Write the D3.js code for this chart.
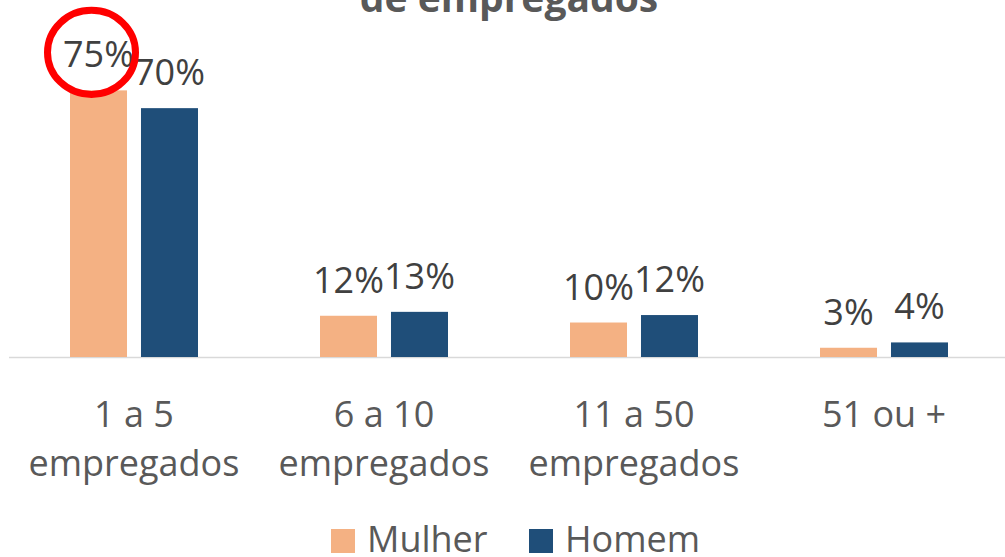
<!DOCTYPE html>
<html><head><meta charset="utf-8">
<script src="https://cdn.jsdelivr.net/npm/d3@7"></script>
<style>html,body{margin:0;padding:0;background:#fff;overflow:hidden}</style>
</head><body>
<svg id="c" width="1005" height="557"></svg>
<script>
const categories = [["1 a 5","empregados"],["6 a 10","empregados"],["11 a 50","empregados"],["51 ou +"]];
const seriesNames = ["Mulher","Homem"];
const mulher = [0.75, 0.116, 0.097, 0.026];
const homem  = [0.70, 0.127, 0.118, 0.041];
const colors = ["#F4B183","#1F4E79"];
const title = "de empregados";

const svg = d3.select("#c");
const FONT = "'Open Sans', 'Noto Sans', sans-serif";
const baseY = 357;
const catKeys = categories.map((c,i)=>i);
const x0 = d3.scaleBand().domain(catKeys).range([9,1009]).paddingInner(0).paddingOuter(0);
const x1 = d3.scaleBand().domain(seriesNames).range([61,189]).paddingInner(0.197).paddingOuter(0);
const y = d3.scaleLinear().domain([0,0.8]).range([baseY, baseY - 0.8*355.5]);
const fmt = d3.format(".0%");

// title
svg.append("text").attr("x",509).attr("y",12).attr("text-anchor","middle")
  .attr("font-family",FONT).attr("font-weight","bold").attr("font-size",39)
  .attr("fill","#595959").text(title);

// axis line
svg.append("line").attr("x1",9).attr("x2",1005).attr("y1",baseY+0.5).attr("y2",baseY+0.5)
  .attr("stroke","#D9D9D9").attr("stroke-width",1.5);

const data = catKeys.map(i=>({i, vals:[mulher[i],homem[i]]}));
const g = svg.selectAll("g.grp").data(data).join("g").attr("class","grp")
  .attr("transform",d=>`translate(${x0(d.i)},0)`);
g.selectAll("rect").data(d=>d.vals.map((v,k)=>({v,k}))).join("rect")
  .attr("x",d=>x1(seriesNames[d.k])).attr("width",x1.bandwidth())
  .attr("y",d=>y(d.v)).attr("height",d=>baseY-y(d.v))
  .attr("fill",d=>colors[d.k]);
g.selectAll("text.lbl").data(d=>d.vals.map((v,k)=>({v,k}))).join("text").attr("class","lbl")
  .attr("x",d=>x1(seriesNames[d.k])+x1.bandwidth()/2).attr("y",d=>y(d.v)-23)
  .attr("text-anchor","middle").attr("font-family",FONT).attr("font-size",36)
  .attr("fill","#404040").text(d=>fmt(d.v));

// category labels
g.each(function(d){
  const t = d3.select(this).append("text").attr("text-anchor","middle")
    .attr("font-family",FONT).attr("font-size",36).attr("fill","#595959");
  categories[d.i].forEach((line,j)=>{
    t.append("tspan").attr("x",x0.bandwidth()/2).attr("y",427+j*49).text(line);
  });
});

// red circle annotation around first label
const cx = x0(0)+x1("Mulher")+x1.bandwidth()/2 - 7;
const cy = y(mulher[0]) - 38;
svg.append("ellipse").attr("cx",cx).attr("cy",cy).attr("rx",44).attr("ry",42)
  .attr("fill","none").attr("stroke","#FF0000").attr("stroke-width",7);

// legend
const leg = [{name:"Mulher",x:331},{name:"Homem",x:529}];
leg.forEach((l,k)=>{
  svg.append("rect").attr("x",l.x).attr("y",529).attr("width",24).attr("height",24).attr("fill",colors[k]);
  svg.append("text").attr("x",l.x+36).attr("y",552).attr("font-family",FONT).attr("font-size",36)
    .attr("fill","#595959").text(l.name);
});
</script>
</body></html>
